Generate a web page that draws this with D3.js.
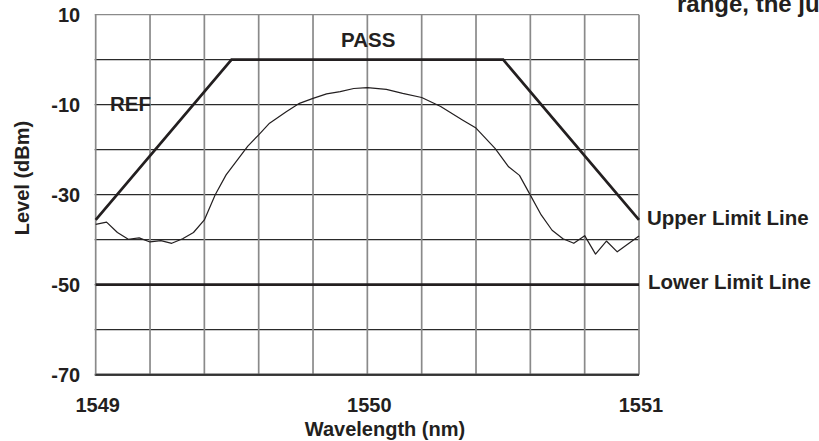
<!DOCTYPE html>
<html>
<head>
<meta charset="utf-8">
<script src="https://cdn.jsdelivr.net/npm/d3@7"></script>
<style>
  html, body { margin: 0; padding: 0; background: #fff; overflow: hidden; }
  svg { display: block; }
  text { font-family: "Liberation Sans", Arial, Helvetica, sans-serif; font-weight: bold; fill: #231f20; }
</style>
</head>
<body>
<svg id="chart" width="819" height="441"></svg>
<script>
// ---- data ----
const traceWavelength = [1549.00, 1549.04, 1549.08, 1549.12, 1549.16, 1549.20, 1549.24, 1549.28, 1549.32, 1549.36,
  1549.40, 1549.44, 1549.48, 1549.56, 1549.60, 1549.64, 1549.70, 1549.75, 1549.80, 1549.85,
  1549.90, 1549.95, 1550.00, 1550.07, 1550.13, 1550.20, 1550.27, 1550.35, 1550.40, 1550.47,
  1550.52, 1550.56, 1550.60, 1550.64, 1550.68, 1550.72, 1550.76, 1550.80, 1550.84, 1550.88,
  1550.92, 1551.00];
const traceLevel = [-36.6, -36.1, -38.4, -39.9, -39.6, -40.5, -40.2, -40.8, -39.8, -38.4,
  -35.6, -30.0, -25.6, -19.2, -16.7, -14.1, -11.6, -9.7, -8.6, -7.6,
  -7.1, -6.4, -6.2, -6.6, -7.5, -8.4, -10.4, -13.4, -15.2, -19.7,
  -23.8, -25.7, -30.1, -34.5, -37.9, -39.8, -40.8, -39.1, -43.2, -40.3,
  -42.7, -39.2];
const upperLimitWavelength = [1549.0, 1549.5, 1550.5, 1551.0];
const upperLimitLevel = [-35.6, 0, 0, -35.6];
const lowerLimitWavelength = [1549.0, 1551.0];
const lowerLimitLevel = [-50, -50];

const xGridTicks = [1549.0, 1549.2, 1549.4, 1549.6, 1549.8, 1550.0, 1550.2, 1550.4, 1550.6, 1550.8, 1551.0];
const yGridTicks = [10, 0, -10, -20, -30, -40, -50, -60, -70];
const xTickLabels = [1549, 1550, 1551];
const yTickLabels = [10, -10, -30, -50, -70];

// ---- layout ----
const margin = { left: 95.7, top: 14.7 };
const width = 543.3, height = 360;

const svg = d3.select("#chart");
const g = svg.append("g").attr("transform", `translate(${margin.left},${margin.top})`);

const x = d3.scaleLinear().domain([1549, 1551]).range([0, width]);
const y = d3.scaleLinear().domain([10, -70]).range([0, height]);

// horizontal grid (dark)
g.append("g").selectAll("line").data(yGridTicks).join("line")
  .attr("x1", -1).attr("x2", width)
  .attr("y1", d => y(d)).attr("y2", d => y(d))
  .attr("stroke", d => d === 10 ? "#8a8a8a" : "#2a2a2a")
  .attr("stroke-width", d => d === -70 ? 2 : 1.3);

// vertical grid (grey)
g.append("g").selectAll("line").data(xGridTicks).join("line")
  .attr("x1", d => x(d)).attr("x2", d => x(d))
  .attr("y1", 0).attr("y2", height)
  .attr("stroke", "#8a8a8a")
  .attr("stroke-width", 1.7);

// bottom border redraw (dark)
g.append("line").attr("x1", 0).attr("x2", width).attr("y1", y(-70)).attr("y2", y(-70))
  .attr("stroke", "#333").attr("stroke-width", 2);

// axes labels via d3 axes
const fmt = d => String(d);
const xAxis = d3.axisBottom(x).tickValues(xTickLabels).tickFormat(fmt).tickSize(0).tickPadding(0);
const xa = g.append("g").attr("transform", `translate(1.5,${height})`).call(xAxis);
xa.select(".domain").remove();
xa.selectAll("text").attr("dy", null).attr("y", 37).style("font-size", "20px").attr("fill", "#231f20");

const yAxis = d3.axisLeft(y).tickValues(yTickLabels).tickFormat(fmt).tickSize(0).tickPadding(0);
const ya = g.append("g").attr("transform", `translate(-15.5,0)`).call(yAxis);
ya.select(".domain").remove();
ya.selectAll("text").attr("dy", "7.2").attr("x", 0).style("font-size", "20px").attr("fill", "#231f20");

// lines
const line = d3.line().x(d => x(d[0])).y(d => y(d[1]));

g.append("path")
  .datum(traceWavelength.map((w, i) => [w, traceLevel[i]]))
  .attr("d", line).attr("fill", "none").attr("stroke", "#231f20").attr("stroke-width", 1.2)
  .attr("stroke-linejoin", "round");

g.append("path")
  .datum(upperLimitWavelength.map((w, i) => [w, upperLimitLevel[i]]))
  .attr("d", line).attr("fill", "none").attr("stroke", "#231f20").attr("stroke-width", 2.7);

g.append("path")
  .datum(lowerLimitWavelength.map((w, i) => [w, lowerLimitLevel[i]]))
  .attr("d", line).attr("fill", "none").attr("stroke", "#231f20").attr("stroke-width", 2.7);

// annotations
svg.append("text").attr("x", 110).attr("y", 111).style("font-size", "20.5px").text("REF");
svg.append("text").attr("x", 341).attr("y", 46.7).style("font-size", "20.5px").text("PASS");
svg.append("text").attr("x", 647).attr("y", 225).style("font-size", "20.5px").text("Upper Limit Line");
svg.append("text").attr("x", 648).attr("y", 289).style("font-size", "20.5px").text("Lower Limit Line");
svg.append("text").attr("x", 677).attr("y", 12).style("font-size", "24px").text("range, the ju");

// axis titles
svg.append("text").attr("x", 385).attr("y", 436).attr("text-anchor", "middle")
  .style("font-size", "20px").text("Wavelength (nm)");
svg.append("text").attr("transform", "translate(29,178) rotate(-90)").attr("text-anchor", "middle")
  .style("font-size", "20px").text("Level (dBm)");
</script>
</body>
</html>
